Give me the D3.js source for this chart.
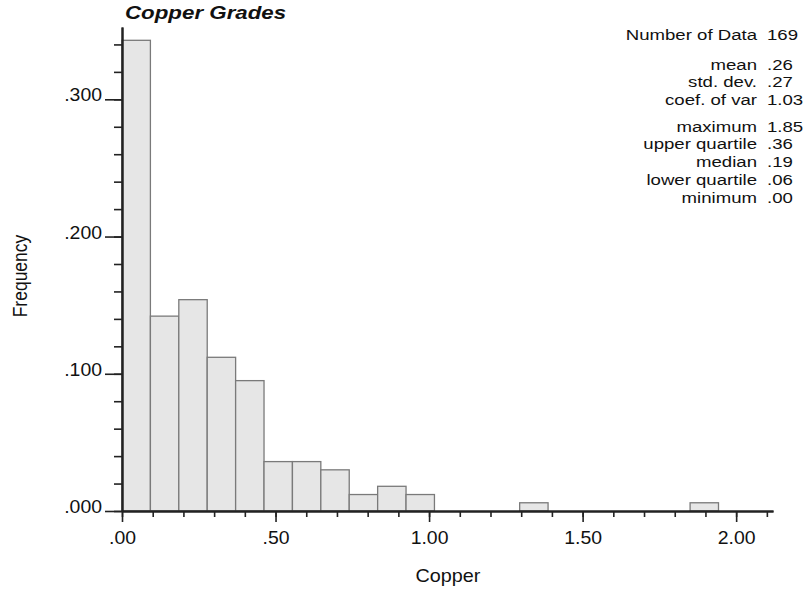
<!DOCTYPE html>
<html>
<head>
<meta charset="utf-8">
<script src="https://cdn.jsdelivr.net/npm/d3@7"></script>
<style>
  body { margin: 0; background: #fff; }
  svg text { font-family: "Liberation Sans", Arial, sans-serif; fill: #111; }
</style>
</head>
<body>
<svg id="chart" width="803" height="592"></svg>
<script>
// histogram bins (lower edge, width 0.0925) and frequencies
const binStarts = [0, 0.0925, 0.185, 0.2775, 0.37, 0.4625, 0.555, 0.6475, 0.74, 0.8325,
                   0.925, 1.0175, 1.11, 1.2025, 1.295, 1.3875, 1.48, 1.5725, 1.665, 1.7575, 1.85];
const frequencies = [0.343, 0.142, 0.154, 0.112, 0.095, 0.036, 0.036, 0.030, 0.012, 0.018,
                     0.012, 0, 0, 0, 0.006, 0, 0, 0, 0, 0, 0.006];
const binWidth = 0.0925;

const xMajorTicks = [0, 0.5, 1, 1.5, 2];
const xTickLabels = [".00", ".50", "1.00", "1.50", "2.00"];
const xMinorTicks = d3.range(0, 22).map(i => i / 10);
const yMajorTicks = [0, 0.1, 0.2, 0.3];
const yTickLabels = [".000", ".100", ".200", ".300"];
const yMinorTicks = d3.range(0, 18).map(i => i * 0.02);

const statLabels = ["Number of Data", "mean", "std. dev.", "coef. of var",
                    "maximum", "upper quartile", "median", "lower quartile", "minimum"];
const statValues = ["169", ".26", ".27", "1.03", "1.85", ".36", ".19", ".06", ".00"];
const statGroups = [0, 1, 1, 1, 2, 2, 2, 2, 2];

const svg = d3.select("#chart");
const left = 122, bottom = 511;

const x = d3.scaleLinear().domain([0, 2.12]).range([left, 773]);
const y = d3.scaleLinear().domain([0, 0.3527]).range([bottom, 27]);

// text is slightly wide in the original, stretch it a bit
const stretchText = (sel, tx, ty, sx) =>
    sel.attr("transform", `translate(${tx},${ty}) scale(${sx},1)`);

// bars
svg.append("g")
    .selectAll("rect")
    .data(binStarts.map((b, i) => ({ x0: b, f: frequencies[i] })).filter(d => d.f > 0))
    .enter()
    .append("rect")
    .attr("x", d => x(d.x0))
    .attr("y", d => y(d.f))
    .attr("width", d => x(d.x0 + binWidth) - x(d.x0))
    .attr("height", d => bottom - y(d.f))
    .attr("fill", "#e6e6e6")
    .attr("stroke", "#7a7a7a")
    .attr("stroke-width", 1.3);

// minor ticks
const xMinor = svg.append("g")
    .attr("transform", `translate(0,${bottom})`)
    .call(d3.axisBottom(x).tickValues(xMinorTicks).tickSize(6).tickSizeOuter(0).tickFormat(""));
const yMinor = svg.append("g")
    .attr("transform", `translate(${left},0)`)
    .call(d3.axisLeft(y).tickValues(yMinorTicks).tickSize(8).tickSizeOuter(0).tickFormat(""));

// major ticks
const xMajor = svg.append("g")
    .attr("transform", `translate(0,${bottom})`)
    .call(d3.axisBottom(x).tickValues(xMajorTicks).tickSize(11).tickSizeOuter(0)
        .tickFormat((d, i) => xTickLabels[i]));
const yMajor = svg.append("g")
    .attr("transform", `translate(${left},0)`)
    .call(d3.axisLeft(y).tickValues(yMajorTicks).tickSize(17).tickSizeOuter(0)
        .tickFormat((d, i) => yTickLabels[i]));

[xMinor, yMinor, xMajor, yMajor].forEach(g => {
    g.selectAll("line").attr("stroke", "#222").attr("stroke-width", 1.6);
    g.select(".domain").attr("stroke", "#222").attr("stroke-width", 2);
});

xMajor.selectAll("text")
    .attr("y", 0).attr("dy", null)
    .attr("font-size", 18)
    .attr("fill", "#111")
    .each(function () {
        stretchText(d3.select(this), 0, 32.5, 1.08);
    });

yMajor.selectAll("text")
    .attr("x", 0).attr("dy", null)
    .attr("font-size", 18)
    .attr("fill", "#111")
    .each(function () {
        stretchText(d3.select(this), -20, 1.5, 1.08);
    });

// title
stretchText(svg.append("text"), 125, 18.5, 1.24)
    .attr("font-size", 18)
    .attr("font-weight", "bold")
    .attr("font-style", "italic")
    .text("Copper Grades");

// axis titles
stretchText(svg.append("text"), 448, 582, 1.1)
    .attr("text-anchor", "middle")
    .attr("font-size", 18)
    .text("Copper");

svg.append("text")
    .attr("transform", "translate(27,276) rotate(-90) scale(1,1.2)")
    .attr("text-anchor", "middle")
    .attr("font-size", 17.5)
    .text("Frequency");

// summary statistics
const groupStart = [40, 69.5, 131.5];
const lineHeight = 17.8;
const statY = statGroups.map((g, i) => {
    const first = statGroups.indexOf(g);
    return groupStart[g] + (i - first) * lineHeight;
});

const stats = svg.append("g");
statLabels.forEach((lab, i) => {
    stretchText(stats.append("text"), 757, statY[i], 1.2)
        .attr("text-anchor", "end")
        .attr("font-size", 15.5)
        .text(lab);
    stretchText(stats.append("text"), 767, statY[i], 1.2)
        .attr("font-size", 15.5)
        .text(statValues[i]);
});
</script>
</body>
</html>
